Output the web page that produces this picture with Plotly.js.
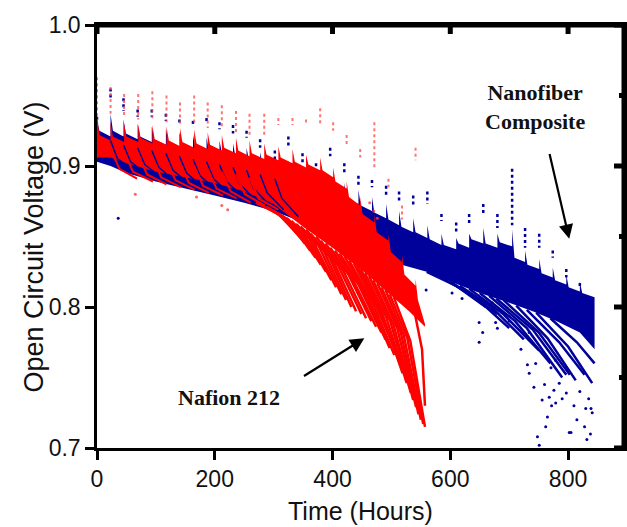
<!DOCTYPE html>
<html>
<head>
<meta charset="utf-8">
<script src="https://cdn.plot.ly/plotly-3.0.1.min.js"></script>
<style>html,body{margin:0;padding:0;background:#fff}#chart{width:627px;height:527px}</style>
</head>
<body>
<div id="chart"></div>
<script>
// ---------- Nafion 212 (red) ----------
const redT      = [0,23,46,70,94,118,141,165,188,212,236,259,284,308,332,355,379,401,424,447,471,495,518,541];
const redPeak   = [0.963,0.956,0.951,0.951,0.953,0.950,0.945,0.950,0.945,0.943,0.939,0.937,0.937,0.934,0.934,0.933,0.941,0.931,0.922,0.912,0.931,0.891,0.872,0.913];
const redSpikeLo= [0.906,0.937,0.935,0.933,0.933,0.931,0.929,0.930,0.927,0.926,0.924,0.922,0.921,0.929,0.929,0.929,0.929,0.925,0.915,0.906,0.897,0.885,0.862,0.904];
const redTooth  = [0.936,0.931,0.930,0.930,0.929,0.928,0.927,0.926,0.924,0.922,0.920,0.918,0.916,0.914,0.912,0.908,0.906,0.899,0.889,0.878,0.866,0.852,0.837,0.820];
const redKneeH  = [4,27,50,74,98,122,145,169,192,216,240,263,288,312,336,359,383,405,428,451,475,499,522,545];
const redKnee   = [0.922,0.921,0.921,0.920,0.919,0.918,0.917,0.916,0.915,0.913,0.911,0.909,0.908,0.906,0.903,0.901,0.897,0.889,0.878,0.866,0.853,0.839,0.823,0.805];
const redTrough = [0.918,0.917,0.917,0.916,0.915,0.914,0.913,0.912,0.911,0.909,0.907,0.905,0.904,0.902,0.899,0.897,0.892,0.884,0.872,0.860,0.847,0.832,0.815,0.788];
const redEnd    = 557;
const redLowH   = [0,23,50,100,150,200,250,300,350,400,450,500,530,557];
const redLowV   = [0.906,0.906,0.902,0.896,0.892,0.888,0.882,0.873,0.857,0.842,0.826,0.808,0.797,0.786];
const redHookH  = [[23,38,68],[46,61,95],[70,85,118],[94,109,142],[118,133,166],[141,156,190],[165,180,214],[188,203,237],[212,227,261],[236,251,285],[259,274,308]];
const redHookV  = [[0.912,0.898,0.891],[0.910,0.896,0.889],[0.908,0.894,0.887],[0.906,0.892,0.885],[0.904,0.890,0.883],[0.902,0.888,0.881],[0.900,0.886,0.879],[0.898,0.884,0.877],[0.896,0.882,0.874],[0.894,0.880,0.872],[0.892,0.877,0.869]];
const redStreakH = [[270,308,344],[280,316,353],[288,325,362],[296,334,371],[305,343,380],[314,351,389],[322,360,398],[330,368,406],[338,377,415],[346,385,423],[355,394,432],[363,402,440],[372,410,449],[380,418,457],[388,427,466],[396,435,474],[404,444,483],[412,451,490],[420,459,497],[428,467,505],[436,475,514],[442,480,517],[448,484,519],[455,491,526],[462,498,533],[469,504,537],[476,510,542],[483,516,546],[490,521,550],[497,527,554],[504,532,557],[540,552,557]];
const redStreakV = [[0.874,0.866,0.850],[0.872,0.864,0.845],[0.871,0.862,0.840],[0.869,0.858,0.835],[0.867,0.855,0.830],[0.865,0.852,0.825],[0.863,0.849,0.819],[0.861,0.846,0.814],[0.859,0.843,0.809],[0.857,0.840,0.805],[0.855,0.836,0.800],[0.852,0.832,0.797],[0.850,0.829,0.795],[0.847,0.826,0.792],[0.845,0.823,0.790],[0.842,0.819,0.786],[0.840,0.816,0.782],[0.838,0.812,0.777],[0.836,0.808,0.771],[0.833,0.804,0.766],[0.831,0.800,0.762],[0.829,0.798,0.757],[0.827,0.796,0.753],[0.824,0.793,0.746],[0.822,0.790,0.739],[0.819,0.787,0.734],[0.817,0.785,0.729],[0.814,0.782,0.724],[0.812,0.780,0.720],[0.809,0.778,0.717],[0.807,0.776,0.715],[0.795,0.770,0.730]];
const redDotH = [65,169,212,222,463,470,476];
const redDotV = [0.880,0.878,0.872,0.869,0.874,0.868,0.863];

// ---------- Nanofiber Composite (blue) ----------
const blueT      = [0,23,45,69,93,117,140,163,186,208,231,254,277,302,325,349,372,396,420,444,467,491,513,537,561,585,610,632,656,680,705,727,751,774,797,820];
const bluePeak   = [0.935,0.955,0.948,0.940,0.940,0.937,0.933,0.932,0.934,0.931,0.929,0.925,0.919,0.911,0.921,0.909,0.902,0.913,0.902,0.893,0.890,0.886,0.882,0.879,0.882,0.866,0.860,0.866,0.873,0.866,0.898,0.856,0.852,0.840,0.827,0.817];
const blueSpikeLo= [0.930,0.948,0.939,0.935,0.935,0.932,0.929,0.928,0.930,0.926,0.923,0.920,0.913,0.904,0.913,0.902,0.895,0.907,0.895,0.886,0.885,0.878,0.875,0.871,0.873,0.861,0.853,0.859,0.866,0.856,0.858,0.842,0.842,0.835,0.821,0.813];
const blueTooth  = [0.933,0.937,0.933,0.930,0.928,0.926,0.924,0.922,0.920,0.918,0.916,0.913,0.910,0.907,0.904,0.900,0.896,0.893,0.888,0.883,0.878,0.873,0.868,0.863,0.858,0.852,0.849,0.852,0.856,0.852,0.855,0.840,0.834,0.828,0.823,0.818];
const blueKneeH  = [4,27,49,73,97,121,144,167,190,212,235,258,281,306,329,353,376,400,424,448,471,495,517,541,565,589,614,636,660,684,709,731,755,778,801,824];
const blueKnee   = [0.925,0.925,0.923,0.921,0.919,0.917,0.915,0.913,0.911,0.909,0.907,0.904,0.901,0.898,0.894,0.890,0.887,0.882,0.877,0.872,0.867,0.862,0.857,0.853,0.848,0.844,0.845,0.848,0.845,0.846,0.835,0.830,0.824,0.819,0.814,0.810];
const blueTrough = [0.921,0.921,0.919,0.917,0.915,0.913,0.911,0.909,0.907,0.905,0.903,0.900,0.897,0.894,0.890,0.886,0.883,0.878,0.873,0.868,0.863,0.858,0.853,0.849,0.844,0.841,0.842,0.845,0.842,0.843,0.832,0.827,0.821,0.816,0.811,0.807];
const blueEnd    = 845;
const blueLowH   = [0,23,50,100,150,200,250,300,350,400,450,508,560,600,650,700,740,780,820,845];
const blueLowV   = [0.903,0.900,0.895,0.889,0.884,0.879,0.874,0.868,0.860,0.850,0.840,0.831,0.825,0.818,0.810,0.803,0.797,0.790,0.782,0.770];
const blueHookH  = [[23,35,62],[45,57,85],[69,81,109],[93,105,133],[117,129,157],[140,152,180],[163,175,203],[186,198,226],[208,220,248],[231,243,271],[254,266,294],[277,289,317],[302,314,342]];
const blueHookV  = [[0.918,0.905,0.897],[0.915,0.903,0.894],[0.913,0.901,0.892],[0.911,0.899,0.889],[0.909,0.897,0.887],[0.907,0.895,0.885],[0.905,0.893,0.883],[0.903,0.891,0.880],[0.901,0.889,0.878],[0.899,0.887,0.875],[0.897,0.884,0.872],[0.894,0.881,0.869],[0.891,0.877,0.864]];
const blueStreakH = [[560,610,660],[580,630,680],[600,650,700],[616,670,725],[632,690,751],[650,710,770],[666,730,790],[678,740,797],[690,750,803],[712,765,813],[730,785,828],[746,800,841],[770,815,845]];
const blueStreakV = [[0.825,0.815,0.800],[0.822,0.810,0.795],[0.818,0.804,0.785],[0.815,0.800,0.777],[0.813,0.795,0.769],[0.810,0.790,0.760],[0.808,0.785,0.750],[0.806,0.784,0.752],[0.805,0.782,0.752],[0.801,0.778,0.748],[0.798,0.775,0.752],[0.796,0.772,0.746],[0.792,0.775,0.760]];
const blueDotH = [36,559,603,620,652,661,671,688,649,655,677,680,649,700,720,734,731,734,742,756,768,779,765,762,748,751,802,830,841,776,785,797,779,771,790,810,820,835,760,745,815,828,838,772,805,832,839];
const blueDotV = [0.863,0.812,0.810,0.806,0.803,0.803,0.803,0.796,0.789,0.782,0.789,0.785,0.775,0.790,0.770,0.782,0.759,0.753,0.743,0.734,0.736,0.732,0.722,0.715,0.708,0.702,0.711,0.728,0.725,0.741,0.746,0.739,0.762,0.757,0.735,0.730,0.740,0.735,0.745,0.760,0.720,0.715,0.710,0.730,0.711,0.706,0.728];

// ---------- axis ticks ----------
const xTicks = [0,200,400,600,800];
const yTicks = [0.7,0.8,0.9,1.0];
const yTickText = ['0.7','0.8','0.9','1.0'];
const yMinor = [0.75,0.85,0.95];
const xRange = [0,895];
const yRange = [0.7,1.0];

const RED = 'rgb(255,0,0)';
const BLUE = 'rgb(0,0,155)';

const M = {l:97, r:3, t:25, b:79};
const W = 627 - M.l - M.r, H = 527 - M.t - M.b;

function band(T, tooth, kneeH, knee, trough, endH, lowH, lowV){
  const xs=[], ys=[];
  for(let k=0;k<T.length;k++){
    xs.push(T[k]); ys.push(tooth[k]);
    xs.push(kneeH[k]); ys.push(knee[k]);
    xs.push(k+1<T.length?T[k+1]:endH); ys.push(trough[k]);
  }
  for(let i=lowH.length-1;i>=0;i--){ xs.push(lowH[i]); ys.push(lowV[i]); }
  return {xs, ys};
}
function polylines(H, V){
  const xs=[], ys=[];
  H.forEach((h,i)=>{ h.forEach((v,j)=>{ xs.push(v); ys.push(V[i][j]); }); xs.push(null); ys.push(null); });
  return {xs, ys};
}
function spikes(T, hi, lo){
  const xs=[], ys=[];
  T.forEach((t,i)=>{ xs.push(t,t,null); ys.push(hi[i],lo[i],null); });
  return {xs, ys};
}
// top/right frame with inward ticks (tick lengths converted from pixels to axis units)
function frameLines(){
  const xs=[xRange[0], xRange[1], xRange[1], null], ys=[yRange[1], yRange[1], yRange[0], null];
  const dy = (yRange[1]-yRange[0]) * 9 / H;
  const dxMaj = (xRange[1]-xRange[0]) * 10 / W, dxMin = (xRange[1]-xRange[0]) * 5 / W;
  xTicks.forEach(t => { xs.push(t, t, null); ys.push(yRange[1], yRange[1]-dy, null); });
  yTicks.forEach(v => { xs.push(xRange[1], xRange[1]-dxMaj, null); ys.push(v, v, null); });
  yMinor.forEach(v => { xs.push(xRange[1], xRange[1]-dxMin, null); ys.push(v, v, null); });
  return {xs, ys};
}

const rb = band(redT, redTooth, redKneeH, redKnee, redTrough, redEnd, redLowH, redLowV);
const bb = band(blueT, blueTooth, blueKneeH, blueKnee, blueTrough, blueEnd, blueLowH, blueLowV);
const rh = polylines(redHookH, redHookV);
const bh = polylines(blueHookH, blueHookV);
const rs = polylines(redStreakH, redStreakV);
const bs = polylines(blueStreakH, blueStreakV);
const rsp = spikes(redT, redPeak, redSpikeLo);
const bsp = spikes(blueT, bluePeak, blueSpikeLo);
const fr = frameLines();

const base = {type:'scatter', hoverinfo:'skip', showlegend:false};
const traces = [
  Object.assign({}, base, {x:blueDotH, y:blueDotV, mode:'markers', marker:{color:BLUE, size:3}}),
  Object.assign({}, base, {x:bsp.xs, y:bsp.ys, mode:'lines', line:{color:BLUE, width:2.5, dash:'dot'}}),
  Object.assign({}, base, {x:bb.xs, y:bb.ys, mode:'lines', fill:'toself', fillcolor:BLUE, line:{width:0, color:BLUE}}),
  Object.assign({}, base, {x:bs.xs, y:bs.ys, mode:'lines', line:{color:BLUE, width:2.5}}),
  Object.assign({}, base, {x:rsp.xs, y:rsp.ys, mode:'lines', line:{color:'rgba(255,70,70,0.75)', width:2, dash:'dot'}}),
  Object.assign({}, base, {x:rb.xs, y:rb.ys, mode:'lines', fill:'toself', fillcolor:RED, line:{width:0, color:RED}}),
  Object.assign({}, base, {x:bh.xs, y:bh.ys, mode:'lines', line:{color:BLUE, width:1.5}}),
  Object.assign({}, base, {x:rh.xs, y:rh.ys, mode:'lines', line:{color:RED, width:2}}),
  Object.assign({}, base, {x:rs.xs, y:rs.ys, mode:'lines', line:{color:RED, width:2.5}}),
  Object.assign({}, base, {x:redDotH, y:redDotV, mode:'markers', marker:{color:'rgba(255,60,60,0.8)', size:3}}),
  Object.assign({}, base, {x:fr.xs, y:fr.ys, mode:'lines', line:{color:'black', width:5}})
];

const tickFont = {family:'Liberation Sans, Arial, sans-serif', size:23, color:'#111'};
const xTitleFont = {family:'Liberation Sans, Arial, sans-serif', size:25, color:'#111'};
const yTitleFont = {family:'Liberation Sans, Arial, sans-serif', size:27, color:'#111'};
const labelFont = {family:'Liberation Serif, Times New Roman, serif', size:22, color:'#111'};

const layout = {
  width:627, height:527,
  margin:{l:M.l, r:M.r, t:M.t, b:M.b, pad:0},
  paper_bgcolor:'white', plot_bgcolor:'white',
  showlegend:false,
  dragmode:false,
  xaxis:{range:xRange, tickmode:'array', tickvals:xTicks, ticks:'outside', ticklen:9, tickwidth:2.5, tickcolor:'black',
         showline:true, mirror:true, linewidth:2.5, linecolor:'black', showgrid:false, zeroline:false, tickfont:tickFont},
  yaxis:{range:yRange, tickmode:'array', tickvals:yTicks, ticktext:yTickText, ticks:'outside', ticklen:9, tickwidth:2.5, tickcolor:'black',
         showline:true, mirror:true, linewidth:2.5, linecolor:'black', showgrid:false, zeroline:false, tickfont:tickFont},
  annotations:[
    {xref:'paper', yref:'paper', x:0.5, y:-0.149, xanchor:'center', yanchor:'middle', showarrow:false, text:'Time (Hours)', font:xTitleFont},
    {xref:'paper', yref:'paper', x:-0.1195, y:0.474, xanchor:'center', yanchor:'middle', showarrow:false, text:'Open Circuit Voltage (V)', textangle:-90, font:yTitleFont},
    {xref:'x', yref:'y', x:224, y:0.736, xanchor:'center', yanchor:'middle', showarrow:false, text:'<b>Nafion 212</b>', font:labelFont},
    {xref:'x', yref:'y', x:744, y:0.942, xanchor:'center', yanchor:'middle', showarrow:false, text:'<b>Nanofiber<br>Composite</b>', font:labelFont},
    {xref:'x', yref:'y', x:454, y:0.7778, axref:'x', ayref:'y', ax:349, ay:0.7504, showarrow:true, arrowhead:2, arrowsize:1.3, arrowwidth:2.2, arrowcolor:'black', text:''},
    {xref:'x', yref:'y', x:802, y:0.8484, axref:'x', ayref:'y', ax:768, ay:0.9096, showarrow:true, arrowhead:2, arrowsize:1.3, arrowwidth:2.2, arrowcolor:'black', text:''}
  ]
};

Plotly.newPlot('chart', traces, layout, {displayModeBar:false});
</script>
</body>
</html>
